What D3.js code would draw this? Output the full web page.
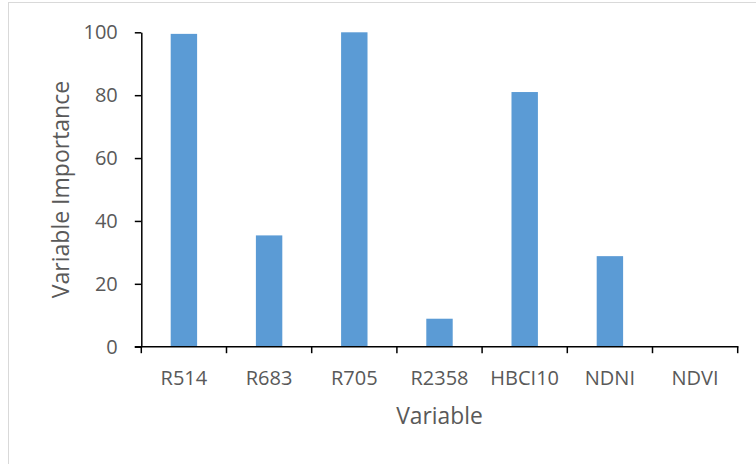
<!DOCTYPE html>
<html>
<head>
<meta charset="utf-8">
<script src="https://cdn.jsdelivr.net/npm/d3@7"></script>
<style>
  html, body { margin: 0; padding: 0; background: #fff; }
  svg { display: block; }
  text { font-family: "Open Sans", "Noto Sans", sans-serif; fill: #595959; }
</style>
</head>
<body>
<svg id="chart" width="756" height="464"></svg>
<script>
// Variable importance per predictor
const categories = ["R514", "R683", "R705", "R2358", "HBCI10", "NDNI", "NDVI"];
const importance = [99.5, 35.4, 100, 8.9, 81.0, 28.8, 0];
const yTicks = [0, 20, 40, 60, 80, 100];

const svg = d3.select("#chart");
const plot = { left: 141.3, right: 737.7, top: 32.3, bottom: 346.7 };

// chart frame
svg.append("rect")
  .attr("x", 8.5).attr("y", 2.5)
  .attr("width", 800).attr("height", 600)
  .attr("fill", "#fff")
  .attr("stroke", "#d9d9d9").attr("stroke-width", 1);

const y = d3.scaleLinear().domain([0, 100]).range([plot.bottom, plot.top]);

// category slots (for ticks/labels) and bars within them
const slot = d3.scaleBand().domain(categories).range([plot.left, plot.right]).padding(0);
const x = d3.scaleBand().domain(categories).range([plot.left, plot.right])
  .paddingInner(0.69).paddingOuter(0.345);

// bars
svg.append("g").selectAll("rect")
  .data(categories.map((c, i) => ({ c, v: importance[i] })))
  .join("rect")
  .attr("x", d => x(d.c))
  .attr("width", x.bandwidth())
  .attr("y", d => y(d.v))
  .attr("height", d => y(0) - y(d.v))
  .attr("fill", "#5b9bd5");

// y axis
const yAxis = svg.append("g")
  .attr("transform", `translate(${plot.left},0)`)
  .call(d3.axisLeft(y).tickValues(yTicks).tickSize(6.5).tickPadding(17).tickSizeOuter(0));
yAxis.select(".domain").attr("stroke", "#000").attr("stroke-width", 1.5);
yAxis.selectAll(".tick line").attr("stroke", "#000").attr("stroke-width", 1.5);
yAxis.selectAll(".tick text")
  .style("font-family", '"Open Sans", sans-serif')
  .attr("font-size", 20).attr("fill", "#595959");

// x axis: baseline, slot boundary ticks, centered labels
const xAxis = svg.append("g");
xAxis.append("line")
  .attr("x1", plot.left - 6.5).attr("x2", plot.right + 0.75)
  .attr("y1", y(0)).attr("y2", y(0))
  .attr("stroke", "#000").attr("stroke-width", 1.5);
const bounds = categories.map(c => slot(c)).concat([slot(categories[categories.length - 1]) + slot.bandwidth()]);
xAxis.selectAll("line.tk")
  .data(bounds)
  .join("line")
  .attr("class", "tk")
  .attr("x1", d => d).attr("x2", d => d)
  .attr("y1", y(0)).attr("y2", y(0) + 6.5)
  .attr("stroke", "#000").attr("stroke-width", 1.5);
xAxis.selectAll("text")
  .data(categories)
  .join("text")
  .attr("x", d => slot(d) + slot.bandwidth() / 2)
  .attr("y", 385)
  .attr("text-anchor", "middle")
  .attr("font-size", 20)
  .text(d => d);

// axis titles
svg.append("text")
  .attr("x", (plot.left + plot.right) / 2)
  .attr("y", 423.5)
  .attr("text-anchor", "middle")
  .attr("font-size", 22.8)
  .text("Variable");

svg.append("text")
  .attr("transform", `translate(69,${(plot.top + plot.bottom) / 2}) rotate(-90)`)
  .attr("text-anchor", "middle")
  .attr("font-size", 23)
  .text("Variable Importance");
</script>
</body>
</html>
